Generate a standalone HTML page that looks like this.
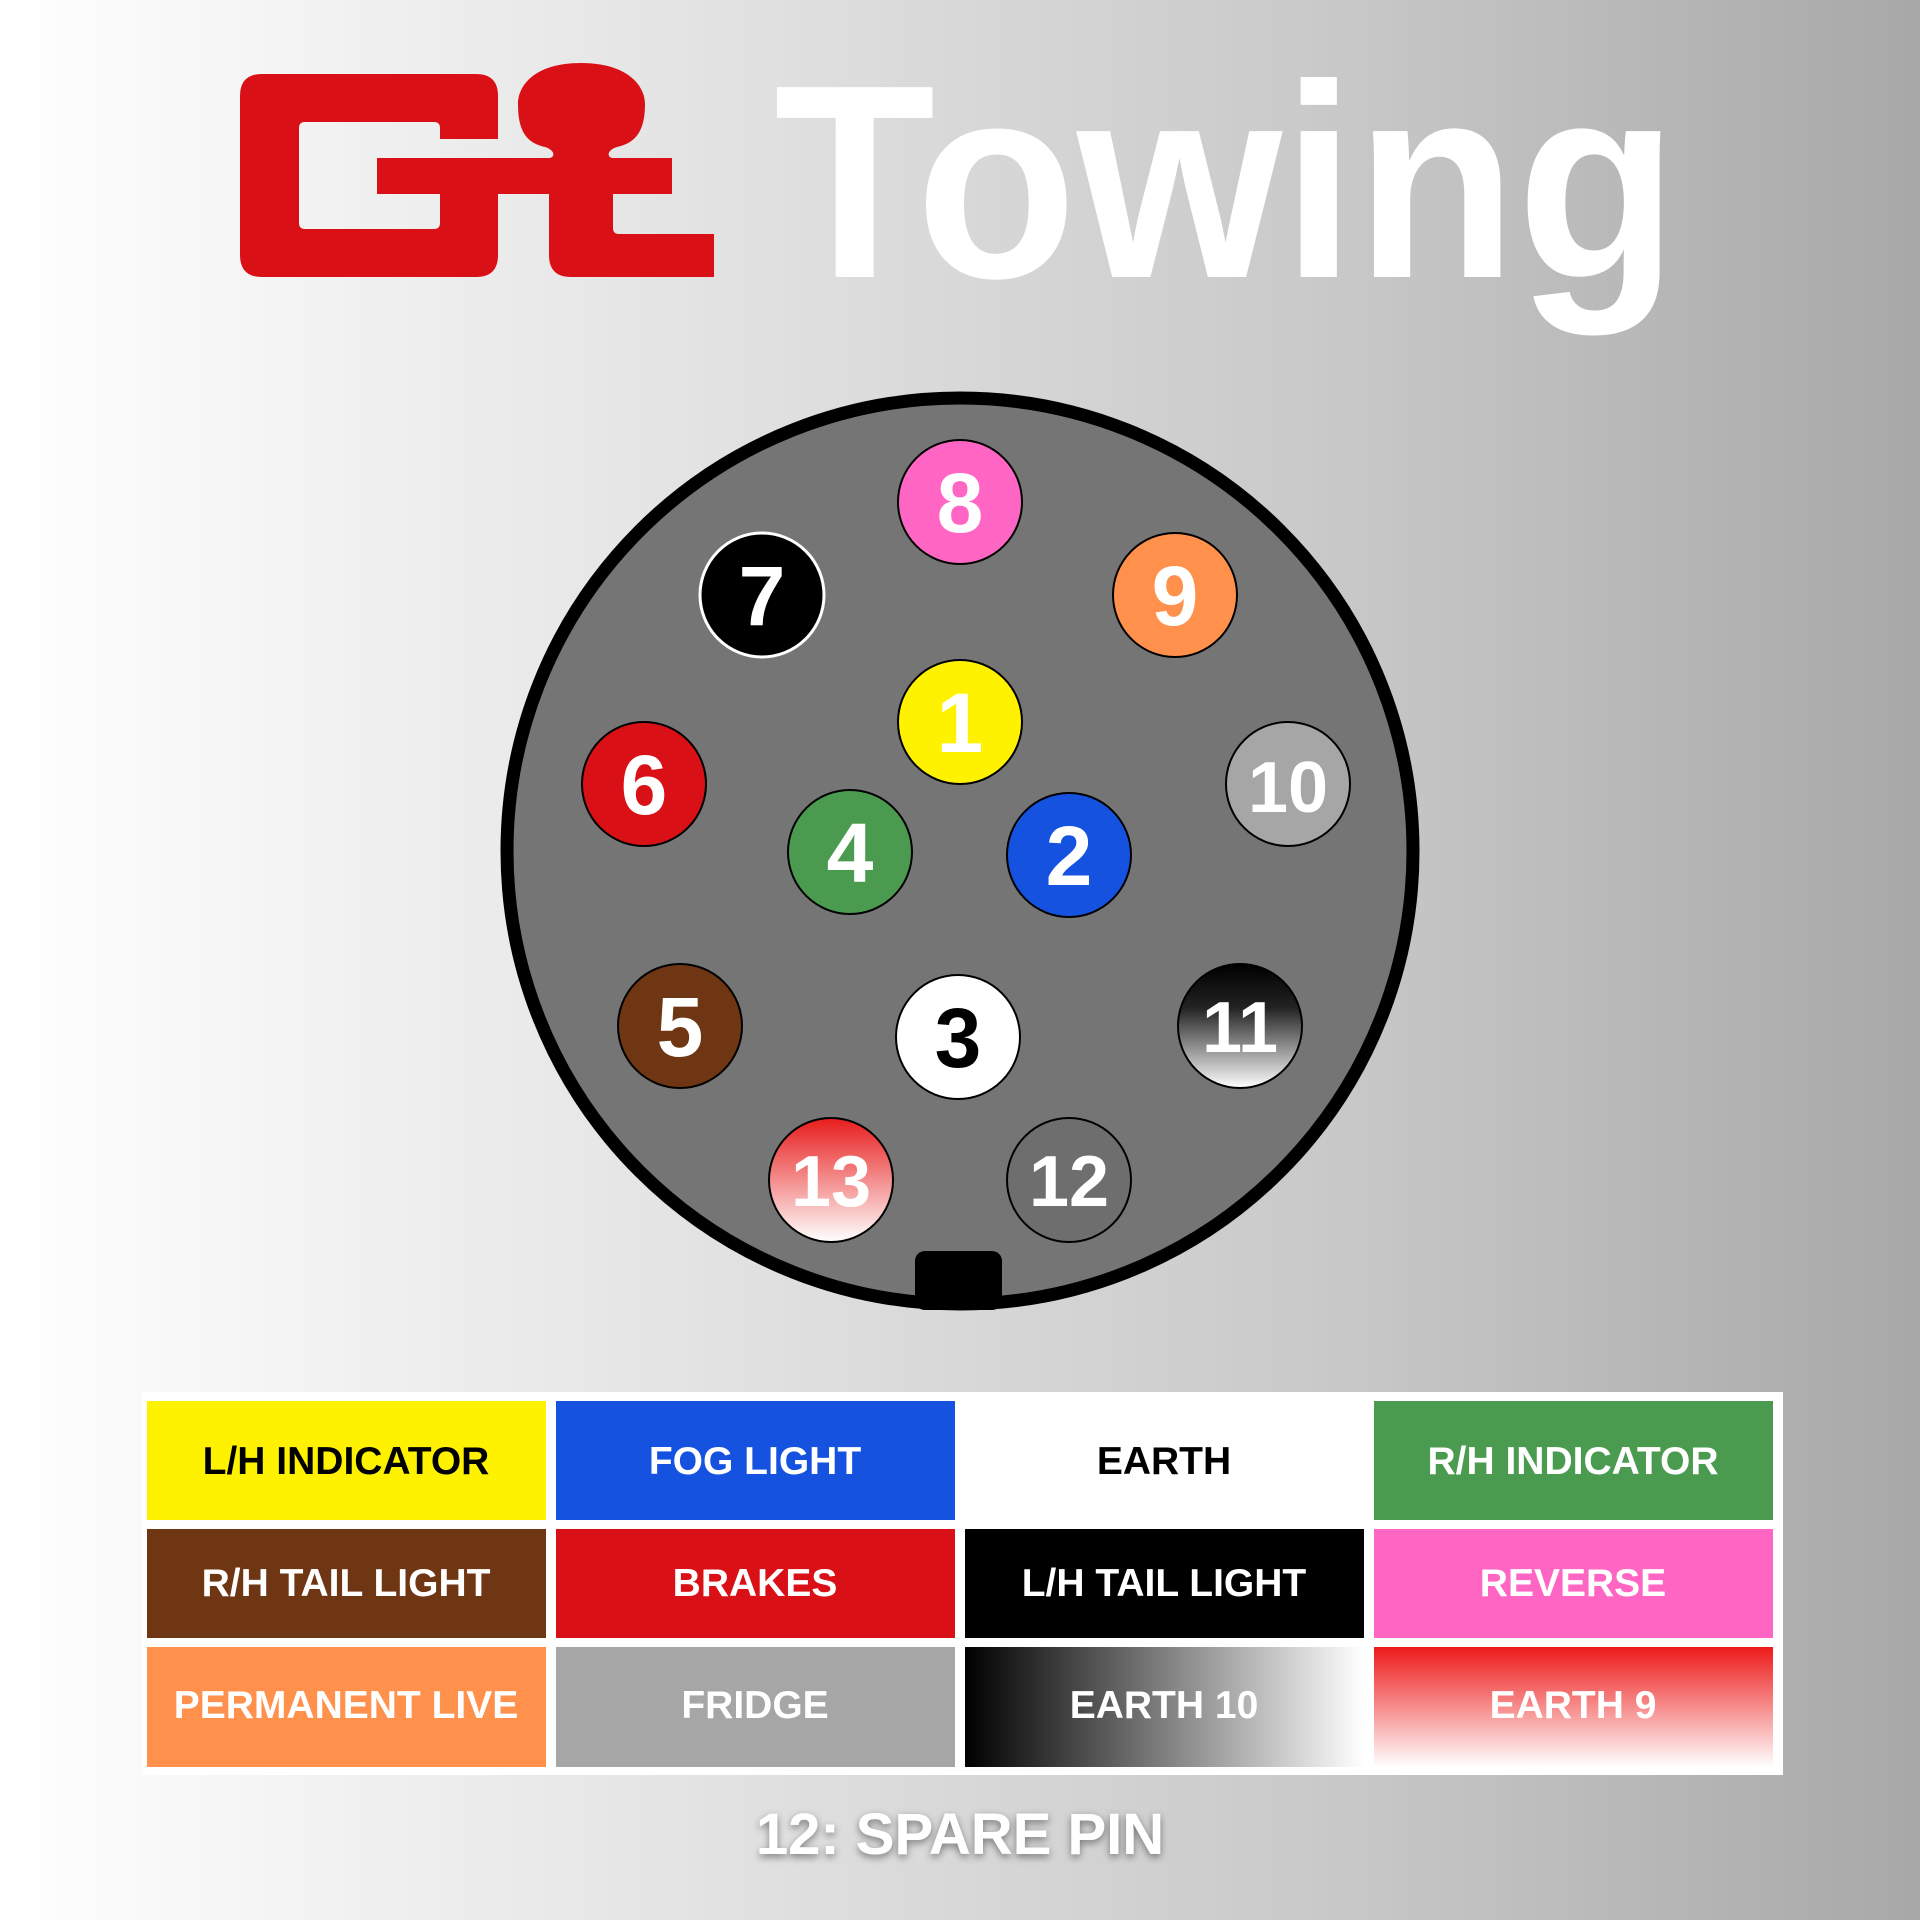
<!DOCTYPE html>
<html><head><meta charset="utf-8"><style>
html,body{margin:0;padding:0}
body{width:1920px;height:1920px;overflow:hidden;background:linear-gradient(90deg,#ffffff 0%,#e8e8e8 30%,#c8c8c8 70%,#a8a8a8 100%);font-family:"Liberation Sans",sans-serif}
</style></head><body>
<svg width="1920" height="1920" viewBox="0 0 1920 1920" xmlns="http://www.w3.org/2000/svg" style="position:absolute;left:0;top:0">
<defs>
<linearGradient id="g11" x1="0" y1="0" x2="0" y2="1"><stop offset="0" stop-color="#000"/><stop offset="0.35" stop-color="#222"/><stop offset="1" stop-color="#fff"/></linearGradient>
<linearGradient id="g13" x1="0" y1="0" x2="0" y2="1"><stop offset="0" stop-color="#e81c1c"/><stop offset="1" stop-color="#fff"/></linearGradient>
<linearGradient id="e10" x1="0" y1="0" x2="1" y2="0"><stop offset="0" stop-color="#000"/><stop offset="1" stop-color="#fff"/></linearGradient>
<linearGradient id="e9" x1="0" y1="0" x2="0" y2="1"><stop offset="0" stop-color="#ee1a1a"/><stop offset="1" stop-color="#fff"/></linearGradient>
<filter id="sh" x="-10%" y="-30%" width="120%" height="160%"><feDropShadow dx="0" dy="3" stdDeviation="4" flood-color="#000" flood-opacity="0.45"/></filter>
</defs>
<!-- Logo -->
<g fill="#d91016">
<path fill-rule="evenodd" d="M262 74 H476 Q498 74 498 96 V139 H440 V128 Q440 122 434 122 H305 Q299 122 299 128 V223 Q299 229 305 229 H434 Q440 229 440 223 V194 H498 V255 Q498 277 476 277 H262 Q240 277 240 255 V96 Q240 74 262 74 Z"/>
<rect x="377" y="158" width="295" height="36"/>
<path d="M549 158 H613 V228 Q613 234 619 234 H714 V277 H571 Q549 277 549 255 Z"/>
<path d="M581 63 C628 63 645 86 645 104 C645 132 635 143 617 147 C605 151 608 158 613 158 H549 C554 158 557 151 545 147 C527 143 518 132 518 104 C518 86 534 63 581 63 Z"/>
</g>
<text x="774" y="277" font-family="Liberation Sans, sans-serif" font-weight="bold" font-size="276" textLength="904" lengthAdjust="spacingAndGlyphs" fill="#fff">Towing</text>
<!-- Connector -->
<circle cx="960" cy="851" r="453" fill="#757575" stroke="#000" stroke-width="13"/>
<rect x="915" y="1251" width="87" height="59" rx="10" fill="#000"/>
<g font-family="Liberation Sans, sans-serif" font-weight="bold" font-size="82" text-anchor="middle" stroke="#000" stroke-width="2">
<circle cx="960" cy="502" r="62" fill="#ff66c4"/>
<circle cx="762" cy="595" r="62" fill="#000" stroke="#fff" stroke-width="3"/>
<circle cx="1175" cy="595" r="62" fill="#ff914d"/>
<circle cx="960" cy="722" r="62" fill="#fff200"/>
<circle cx="644" cy="784" r="62" fill="#d91016"/>
<circle cx="1288" cy="784" r="62" fill="#a6a6a6"/>
<circle cx="850" cy="852" r="62" fill="#4a9b4f"/>
<circle cx="1069" cy="855" r="62" fill="#1652e0"/>
<circle cx="680" cy="1026" r="62" fill="#6f3613"/>
<circle cx="958" cy="1037" r="62" fill="#fff"/>
<circle cx="1240" cy="1026" r="62" fill="url(#g11)"/>
<circle cx="831" cy="1180" r="62" fill="url(#g13)"/>
<circle cx="1069" cy="1180" r="62" fill="#6e6e6e"/>
</g>
<g font-family="Liberation Sans, sans-serif" font-weight="bold" font-size="84" text-anchor="middle" fill="#fff">
<text x="960" y="532">8</text>
<text x="762" y="625">7</text>
<text x="1175" y="625">9</text>
<text x="960" y="752">1</text>
<text x="644" y="814">6</text>
<text x="1288" y="812" font-size="72">10</text>
<text x="850" y="882">4</text>
<text x="1069" y="885">2</text>
<text x="680" y="1056">5</text>
<text x="958" y="1067" fill="#000">3</text>
<text x="1240" y="1052" font-size="72">11</text>
<text x="831" y="1206" font-size="72">13</text>
<text x="1069" y="1206" font-size="72">12</text>
</g>
<!-- Table -->
<rect x="142" y="1392" width="1641" height="383" fill="#fff"/>
<rect x="147" y="1401" width="399" height="119" fill="#fff200"/>
<rect x="556" y="1401" width="399" height="119" fill="#1652e0"/>
<rect x="965" y="1401" width="399" height="119" fill="#fff"/>
<rect x="1374" y="1401" width="399" height="119" fill="#4a9b4f"/>
<rect x="147" y="1529" width="399" height="109" fill="#6f3613"/>
<rect x="556" y="1529" width="399" height="109" fill="#d91016"/>
<rect x="965" y="1529" width="399" height="109" fill="#000"/>
<rect x="1374" y="1529" width="399" height="109" fill="#ff66c4"/>
<rect x="147" y="1647" width="399" height="120" fill="#ff914d"/>
<rect x="556" y="1647" width="399" height="120" fill="#a6a6a6"/>
<rect x="965" y="1647" width="399" height="120" fill="url(#e10)"/>
<rect x="1374" y="1647" width="399" height="120" fill="url(#e9)"/>
<g font-family="Liberation Sans, sans-serif" font-weight="bold" font-size="39" text-anchor="middle" fill="#fff">
<text x="346" y="1474" fill="#000">L/H INDICATOR</text>
<text x="755" y="1474">FOG LIGHT</text>
<text x="1164" y="1474" fill="#000">EARTH</text>
<text x="1573" y="1474">R/H INDICATOR</text>
<text x="346" y="1596">R/H TAIL LIGHT</text>
<text x="755" y="1596">BRAKES</text>
<text x="1164" y="1596">L/H TAIL LIGHT</text>
<text x="1573" y="1596">REVERSE</text>
<text x="346" y="1718">PERMANENT LIVE</text>
<text x="755" y="1718">FRIDGE</text>
<text x="1164" y="1718">EARTH 10</text>
<text x="1573" y="1718">EARTH 9</text>
</g>
<text x="960" y="1854" font-family="Liberation Sans, sans-serif" font-weight="bold" font-size="58" text-anchor="middle" fill="#fff" filter="url(#sh)">12: SPARE PIN</text>
</svg>
</body></html>
